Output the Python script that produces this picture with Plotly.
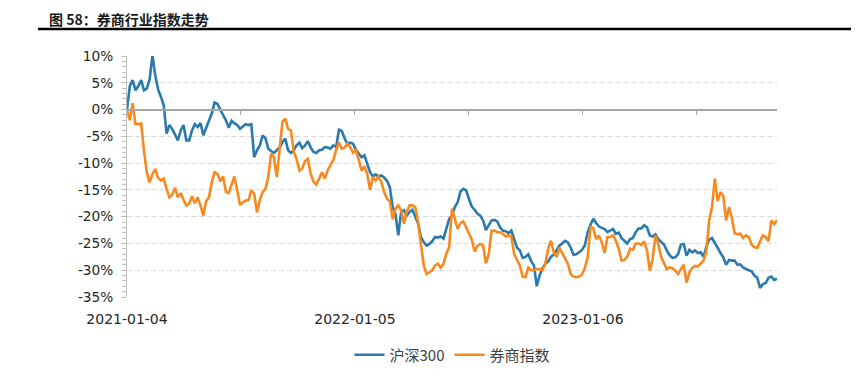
import numpy as np
import plotly.graph_objects as go

# ---- data (cumulative change, %, sampled every 3 trading days from 2021-01-04) ----
STEP = 3
hs300 = [
    0.0, 4.4, 5.5, 3.6, 4.4, 5.5, 3.6, 3.9, 5.6, 10.1,
    6.4, 3.75, 2.4, 0.8, -4.5, -2.9, -3.6, -4.8, -5.75, -3.9,
    -2.9, -5.75, -5.75, -3.9, -2.75, -3.25, -2.5, -4.8, -3.4, -2.3,
    -0.75, 1.3, 1.1, 0.0, -0.9, -2.0, -3.4, -2.1, -2.6, -2.9,
    -3.6, -3.1, -2.75, -2.9, -2.75, -8.9, -7.6, -6.7, -4.8, -5.4,
    -7.3, -7.75, -8.1, -7.6, -7.1, -6.1, -5.4, -7.6, -8.1,
    -7.6, -6.7, -6.2, -7.2, -6.7, -5.9, -7.1, -7.9, -8.1, -7.6,
    -7.5, -7.0, -7.1, -7.3, -6.7, -7.0, -3.75, -4.0, -5.4, -6.4,
    -6.2, -6.4, -7.5, -8.2, -8.9, -8.55, -10.2, -11.7, -12.5, -12.1,
    -12.5, -12.3, -12.7, -13.3, -14.5, -18.2, -19.5, -23.5, -19.1, -18.8,
    -19.8, -19.1, -18.7, -20.1, -21.3, -23.8, -24.75, -25.4, -25.1, -24.6,
    -23.8, -23.9, -23.7, -24.1, -22.1, -20.4, -19.8,
    -18.2, -17.3, -15.3, -14.8, -15.1, -16.7, -18.1, -18.7, -19.4, -19.8,
    -20.7, -22.5, -21.5, -20.7, -20.6, -20.9, -22.0, -22.6, -22.7, -23.1,
    -22.6, -24.3, -25.8, -26.3, -27.7, -27.5, -27.0, -28.3, -29.1, -33.0,
    -31.0, -29.6, -28.8, -28.4, -27.5, -27.1, -26.3, -25.4, -25.0, -24.5,
    -24.8, -25.8, -27.1, -27.0, -26.65, -26.2, -25.4, -22.9, -21.5, -20.4,
    -21.2, -21.85, -22.1, -22.3, -22.9, -22.6, -22.3, -23.2, -23.0,
    -24.0, -24.6, -25.0, -24.2, -24.0, -22.9, -22.2, -22.2, -21.6, -22.0,
    -23.5, -23.7, -23.3, -24.2, -24.7, -25.2, -26.3, -27.2, -27.7, -27.6,
    -27.0, -25.2, -25.1, -27.3, -26.2, -26.65, -26.3, -26.8, -26.65, -27.5,
    -25.6, -24.3, -24.0, -24.8, -25.8, -26.8, -27.6, -29.0, -28.1, -28.2,
    -28.2, -29.0, -28.9, -29.5, -29.8, -30.0, -30.2, -31.0, -31.4, -33.3,
    -32.6, -32.4, -31.4, -31.2, -31.8, -31.6,
]
broker = [
    0.0, -2.0, 1.2, -2.75, -2.75, -2.6, -7.6, -11.7, -13.6, -12.1,
    -11.1, -12.75, -13.25, -12.9, -14.8, -16.4, -15.9, -14.6, -16.4, -15.6,
    -16.9, -17.9, -17.6, -16.2, -17.5, -16.4, -17.9, -19.8, -17.1, -16.4,
    -13.6, -11.7, -12.0, -13.4, -12.5, -15.4, -15.6, -14.2, -12.5, -15.1,
    -17.8, -17.3, -17.0, -16.9, -15.1, -15.75, -19.2, -16.9, -15.4, -14.8,
    -12.6, -8.25, -8.9, -12.6, -7.0, -2.3, -1.7, -3.6, -3.9,
    -7.9, -9.2, -11.4, -11.0, -9.6, -9.2, -12.0, -13.5, -14.0, -12.9,
    -11.7, -12.9, -11.4, -10.4, -9.4, -7.6, -6.1, -7.3, -7.1, -6.4,
    -7.0, -8.1, -7.6, -9.4, -11.4, -10.6, -12.0, -15.0, -12.6, -13.3,
    -12.5, -13.5, -15.4, -16.65, -17.1, -20.5, -18.5, -17.9, -18.8, -21.3,
    -19.1, -17.9, -17.9, -18.2, -21.0, -25.1, -29.1, -30.7, -30.4, -30.0,
    -29.1, -28.8, -29.5, -28.8, -26.9, -25.7, -18.5,
    -20.6, -22.3, -21.2, -20.9, -22.0, -23.2, -24.3, -26.5, -25.4, -25.1,
    -25.4, -28.7, -27.0, -22.6, -22.6, -22.9, -22.9, -23.2, -23.7, -23.5,
    -23.7, -27.0, -28.1, -29.1, -31.2, -31.3, -29.5, -30.0, -30.0, -29.8,
    -29.8, -30.0, -28.8, -26.0, -24.5, -26.65, -27.5, -25.8, -26.8, -27.9,
    -28.8, -30.7, -31.2, -31.3, -31.2, -30.8, -29.6, -27.6, -22.0, -22.1,
    -24.2, -23.5, -24.8, -26.8, -23.8, -23.8, -23.5, -24.5, -26.0,
    -28.2, -28.1, -27.5, -26.0, -26.2, -25.0, -25.0, -25.3, -24.6, -26.3,
    -30.1, -27.9, -23.5, -25.1, -27.5, -28.7, -29.8, -29.5, -29.6, -30.1,
    -30.7, -29.8, -28.95, -32.3, -30.4, -29.6, -29.2, -29.3, -28.8, -28.2,
    -26.5, -20.7, -18.2, -12.9, -17.1, -15.4, -16.1, -20.7, -18.2, -20.1,
    -23.1, -23.3, -23.2, -24.0, -23.5, -23.8, -25.2, -25.7, -25.8, -24.6,
    -23.5, -23.8, -24.6, -20.7, -21.4, -20.6,
]
series_names = ["沪深300", "券商指数"]
tick_labels = ["2021-01-04", "2022-01-05", "2023-01-06"]
label_days = [0, 242, 484]          # trading-day index of each labelled date
tick_days = [0, 121, 242, 363, 484, 605]
y_ticks = [10, 5, 0, -5, -10, -15, -20, -25, -30, -35]
y_tick_text = [f"{v}%" for v in y_ticks]
title_text = "图 58：券商行业指数走势"

# ---- layout constants (page pixels; the page body adds an 8px margin) ----
PAGE_W, PAGE_H = 859, 379
OFF = 8
W, H = PAGE_W - OFF, PAGE_H - OFF
PLOT_L, PLOT_R, PLOT_T, PLOT_B = 127, 777, 56, 297   # plot box in page pixels
ML, MT = PLOT_L - OFF, PLOT_T - OFF
MR, MB = W - (PLOT_R - OFF), H - (PLOT_B - OFF)
PW, PH = PLOT_R - PLOT_L, PLOT_B - PLOT_T
Y_MIN, Y_MAX = -35, 10
BLUE, ORANGE = "#2A7AAE", "#F7891F"
AXIS_GREY = "#BFBFBF"

x = np.arange(len(hs300)) * STEP
x_max = (len(hs300) - 1) * STEP

fig = go.Figure()
fig.add_trace(go.Scatter(x=x, y=hs300, name=series_names[0], mode="lines",
                         line=dict(color=BLUE, width=2.6), xaxis="x", yaxis="y"))
fig.add_trace(go.Scatter(x=x, y=broker, name=series_names[1], mode="lines",
                         line=dict(color=ORANGE, width=2.6), xaxis="x2", yaxis="y"))

def px_x(p):
    return (p - PLOT_L) / PW

def px_y(p):
    return (PLOT_B - p) / PH

zero_pos = (0 - Y_MIN) / (Y_MAX - Y_MIN)

fig.update_layout(
    width=W, height=H,
    margin=dict(l=ML, r=MR, t=MT, b=MB, autoexpand=False),
    paper_bgcolor="white", plot_bgcolor="white",
    showlegend=True,
    legend=dict(orientation="h", x=px_x(452), xanchor="center", y=px_y(355), yanchor="middle",
                font=dict(family="Noto Sans CJK SC", size=15, color="#404040"),
                itemwidth=30, bgcolor="rgba(0,0,0,0)"),
    xaxis=dict(range=[0, x_max], tickvals=label_days, ticktext=tick_labels,
               showgrid=False, zeroline=False, showline=False, ticks="",
               ticklabelstandoff=12,
               tickfont=dict(family="DejaVu Sans", size=14, color="#262626")),
    xaxis2=dict(range=[0, x_max], overlaying="x", matches="x", anchor="free",
                position=zero_pos, side="bottom",
                tickvals=tick_days, showticklabels=False, ticks="outside",
                ticklen=5, tickcolor="#A6A6A6", tickwidth=1,
                showline=True, linecolor="#A6A6A6", linewidth=1.5,
                showgrid=False, zeroline=False),
    yaxis=dict(range=[Y_MIN, Y_MAX], tickvals=y_ticks, ticktext=y_tick_text,
               showgrid=True, gridcolor="#D9D9D9", griddash="5px,3px", gridwidth=1,
               zeroline=False, showline=True, linecolor=AXIS_GREY, linewidth=1,
               ticks="outside", ticklen=5, tickcolor=AXIS_GREY,
               minor=dict(dtick=1, ticks="outside", ticklen=4, tickcolor=AXIS_GREY, showgrid=False),
               ticklabelstandoff=5,
               tickfont=dict(family="DejaVu Sans", size=13.7, color="#262626")),
    hovermode=False,
)

fig.add_annotation(text="<b>" + title_text + "</b>", xref="paper", yref="paper",
                   x=px_x(48), y=px_y(OFF), xanchor="left", yanchor="top",
                   showarrow=False, borderpad=0,
                   font=dict(family="Noto Sans CJK SC", size=14, color="#1a1a1a"))
fig.add_shape(type="line", xref="paper", yref="paper",
              x0=px_x(38), x1=px_x(PAGE_W), y0=px_y(29), y1=px_y(29),
              line=dict(color="black", width=2.5))

fig.write_html("out.html")
